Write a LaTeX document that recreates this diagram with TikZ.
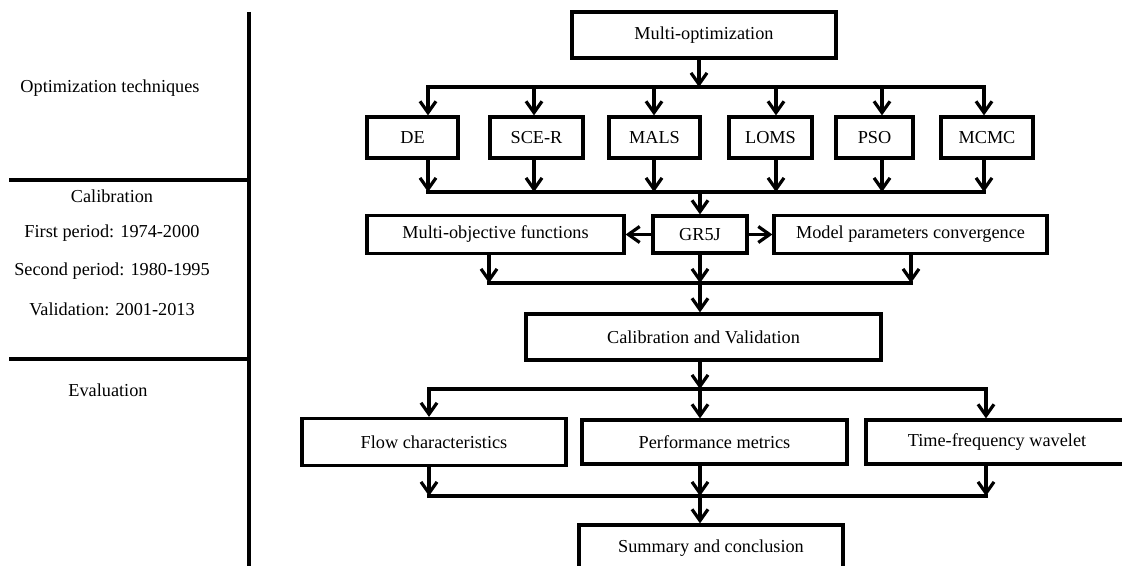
\documentclass[tikz,border=0pt]{standalone}
\usepackage{fontspec}
\setmainfont{Liberation Serif}
\usetikzlibrary{arrows.meta}
\begin{document}
\begin{tikzpicture}[x=0.75pt,y=-0.75pt,
  every node/.style={font=\fontsize{13.7}{16}\selectfont},
  box/.style={draw,line width=2.4pt,inner sep=0pt,minimum height=#1},
  box/.default=30.75pt,
  arr/.style={line width=2.4pt,-{Straight Barb[length=8.5pt,width=12pt]}},
  bus/.style={line width=2.4pt,line cap=rect},
  sep/.style={line width=2.4pt},
  lbl/.style={inner sep=0pt}]
\useasboundingbox (0,0) rectangle (1122,566);
% left column
\draw[sep] (249,12) coordinate (vtop) -- (249,580) coordinate (vbot);
\draw[sep] (9,180) coordinate (h1a) -- (249,180) coordinate (h1b);
\draw[sep] (9,359) coordinate (h2a) -- (249,359) coordinate (h2b);
\node[lbl] (lopt) at (110,88) {Optimization techniques};
\node[lbl] (lcal) at (112,196) {Calibration};
\node[lbl] (lfirst) at (112,233) {First period: 1974-2000};
\node[lbl] (lsecond) at (112,271) {Second period: 1980-1995};
\node[lbl] (lval) at (112,309) {Validation: 2001-2013};
\node[lbl] (leval) at (108,390) {Evaluation};
% top
\node[box=34.5pt,minimum width=198pt] (mo) at (704,35) {Multi-optimization};
\node[box,minimum width=68.25pt] (de) at (412.5,137.5) {DE};
\node[box,minimum width=69.75pt] (sce) at (536.5,137.5) {SCE-R};
\node[box,minimum width=68.25pt] (mals) at (654.5,137.5) {MALS};
\node[box,minimum width=62.25pt] (loms) at (770.5,137.5) {LOMS};
\node[box,minimum width=57.75pt] (pso) at (874.5,137.5) {PSO};
\node[box,minimum width=69pt] (mcmc) at (987,137.5) {MCMC};
\coordinate (b1) at (699,87);
\coordinate (t1) at (428,87); \coordinate (t2) at (534,87); \coordinate (t3) at (654,87);
\coordinate (t4) at (776,87); \coordinate (t5) at (882,87); \coordinate (t6) at (984,87);
\coordinate (u1) at (428,192); \coordinate (u2) at (534,192); \coordinate (u3) at (654,192);
\coordinate (u4) at (776,192); \coordinate (u5) at (882,192); \coordinate (u6) at (984,192);
\coordinate (b2) at (700,192);
\draw[arr] (mo.south -| b1) -- (b1);
\draw[bus] (t1) -- (t6);
\foreach \i/\n in {1/de,2/sce,3/mals,4/loms,5/pso,6/mcmc}{
  \draw[arr] (t\i) -- (t\i |- \n.north);
  \draw[arr] (u\i |- \n.south) -- (u\i);
}
\draw[bus] (u1) -- (u6);
% GR5J row
\node[box=27.75pt,minimum width=70.5pt] (gr) at (700,234.5) {GR5J};
\node[box=28.5pt,minimum width=192.75pt] (mobj) at (495.5,234.5) {Multi-objective functions};
\node[box=28.5pt,minimum width=204.75pt] (mpc) at (910.5,234.5) {Model parameters convergence};
\draw[arr] (b2) -- (b2 |- gr.north);
\draw[arr] (gr.west) -- (mobj.east);
\draw[arr] (gr.east) -- (mpc.west);
\coordinate (c1) at (489,283); \coordinate (c2) at (700,283); \coordinate (c3) at (911,283);
\draw[arr] (c1 |- mobj.south) -- (c1);
\draw[arr] (gr.south) -- (c2);
\draw[arr] (c3 |- mpc.south) -- (c3);
\draw[bus] (c1) -- (c3);
% calibration
\node[box=34.5pt,minimum width=266.25pt] (cal) at (703.5,337) {Calibration and Validation};
\draw[arr] (c2) -- (c2 |- cal.north);
\coordinate (d1) at (429,389); \coordinate (d2) at (700,389); \coordinate (d3) at (986,389);
\draw[arr] (d2 |- cal.south) -- (d2);
\draw[bus] (d1) -- (d3);
\node[box=35.25pt,minimum width=198pt] (flow) at (434,442) {Flow characteristics};
\node[box=33pt,minimum width=198.75pt] (perf) at (714.5,442) {Performance metrics};
\node[box=33pt,minimum width=196.5pt] (tfw) at (997,442) {Time-frequency wavelet};
\draw[arr] (d1) -- (d1 |- flow.north);
\draw[arr] (d2) -- (d2 |- perf.north);
\draw[arr] (d3) -- (d3 |- tfw.north);
\coordinate (e1) at (429,496); \coordinate (e2) at (700,496); \coordinate (e3) at (986,496);
\draw[arr] (e1 |- flow.south) -- (e1);
\draw[arr] (e2 |- perf.south) -- (e2);
\draw[arr] (e3 |- tfw.south) -- (e3);
\draw[bus] (e1) -- (e3);
\node[box=34.5pt,minimum width=198pt] (sum) at (711,548) {Summary and conclusion};
\draw[arr] (e2) -- (e2 |- sum.north);
\end{tikzpicture}
\end{document}
